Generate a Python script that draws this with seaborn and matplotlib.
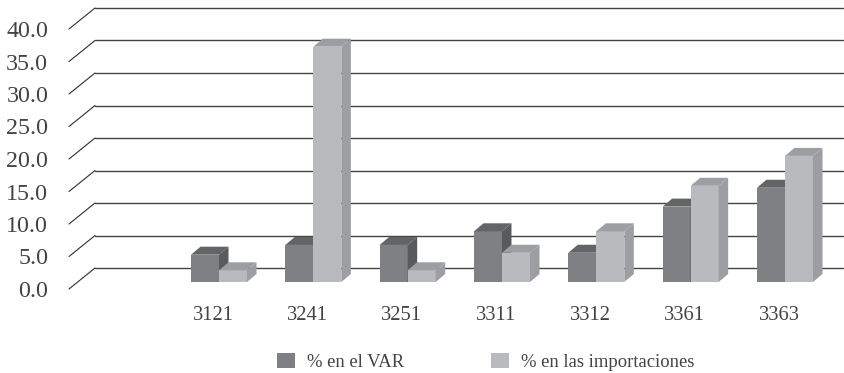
import matplotlib
matplotlib.use("Agg")
import matplotlib.pyplot as plt
from matplotlib.patches import Polygon
from matplotlib.transforms import ScaledTranslation
import pandas as pd
import seaborn as sns

categories = ["3121", "3241", "3251", "3311", "3312", "3361", "3363"]
var_share = [4.2, 5.7, 5.7, 7.8, 4.5, 11.6, 14.5]
import_share = [1.8, 36.2, 1.8, 4.5, 7.8, 14.8, 19.4]
series_names = ["% en el VAR", "% en las importaciones"]
y_ticks = [0, 5, 10, 15, 20, 25, 30, 35, 40]

W, H, DPI = 845, 373, 100
PX_PER_UNIT = 6.5
PX_PER_CAT = 94.33
CENTER0_PX = 219
FLOOR_PX = 289
LEFT_PX = 69

FACE = {series_names[0]: "#7f8083", series_names[1]: "#b9babd"}
TOP = {series_names[0]: "#636466", series_names[1]: "#9d9ea1"}
SIDE = {series_names[0]: "#595a5c", series_names[1]: "#9d9ea1"}
TEXT = "#434345"

sns.set_theme(style="white")
plt.rcParams["font.family"] = ["Liberation Serif", "DejaVu Serif"]

df = pd.DataFrame({
    "code": categories * 2,
    "serie": [series_names[0]] * len(categories) + [series_names[1]] * len(categories),
    "valor": var_share + import_share,
})

fig = plt.figure(figsize=(W / DPI, H / DPI), dpi=DPI)
ax = fig.add_axes([LEFT_PX / W, 1 - FLOOR_PX / H, 1 - LEFT_PX / W, FLOOR_PX / H])
sns.barplot(data=df, x="code", y="valor", hue="serie", order=categories,
            hue_order=series_names, palette=FACE, width=0.594, saturation=1,
            errorbar=None, linewidth=0, ax=ax)

ax.set_xlim((LEFT_PX - CENTER0_PX) / PX_PER_CAT, (W - CENTER0_PX) / PX_PER_CAT)
ax.set_ylim(0, FLOOR_PX / PX_PER_UNIT)

# Back wall: each gridline runs along the wall and folds down to the front edge.
wall_dx, wall_dy = 26 / PX_PER_CAT, 21 / PX_PER_UNIT
x0 = ax.get_xlim()[0]
x1 = (843 - CENTER0_PX) / PX_PER_CAT
for v in y_ticks:
    ax.plot([x0, x0 + wall_dx], [v, v + wall_dy], color="#2f2f30", lw=0.8, zorder=1, clip_on=False)
    ax.plot([x0 + wall_dx, x1], [v + wall_dy, v + wall_dy], color="#444445", lw=1.0, zorder=1, clip_on=False)

# Bars stand on a floor raised above the front edge, with extruded top and side faces.
floor = 7 / PX_PER_UNIT
bar_dx, bar_dy = 9.5 / PX_PER_CAT, 8 / PX_PER_UNIT
for z, name, container in zip((4, 5), series_names, ax.containers):
    for bar in container:
        bar.set_y(floor)
        bar.set_zorder(z)
        xl, xr = bar.get_x(), bar.get_x() + bar.get_width()
        yb, yt = floor, floor + bar.get_height()
        ax.add_patch(Polygon([(xl, yt), (xr, yt), (xr + bar_dx, yt + bar_dy), (xl + bar_dx, yt + bar_dy)],
                             closed=True, fc=TOP[name], ec="none", zorder=z))
        ax.add_patch(Polygon([(xr, yb), (xr, yt), (xr + bar_dx, yt + bar_dy), (xr + bar_dx, yb + bar_dy)],
                             closed=True, fc=SIDE[name], ec="none", zorder=z))

ax.set_xlabel("")
ax.set_ylabel("")
ax.set_yticks(y_ticks, [f"{v:.1f}" for v in y_ticks])
ax.tick_params(axis="y", length=0, pad=15, labelsize=17.3, labelcolor=TEXT)
ax.tick_params(axis="x", length=0, pad=12.5, labelsize=14.8, labelcolor=TEXT)
shift = ScaledTranslation(-6 / DPI, 0, fig.dpi_scale_trans)
for lab in ax.get_xticklabels():
    lab.set_transform(lab.get_transform() + shift)
sns.despine(ax=ax, left=True, bottom=True)
ax.patch.set_alpha(0)

handles, labels = ax.get_legend_handles_labels()
fs = 13.4
fs_px = fs * DPI / 72
ax.legend(handles, labels, loc="lower left", ncol=2, frameon=False, fontsize=fs,
          bbox_to_anchor=(277 / W, 1 - 371 / H), bbox_transform=fig.transFigure,
          borderpad=0, borderaxespad=0, handlelength=18 / fs_px, handleheight=17 / fs_px,
          handletextpad=12 / fs_px, columnspacing=87 / fs_px, labelcolor=TEXT)

fig.savefig("out.png", dpi=DPI)
